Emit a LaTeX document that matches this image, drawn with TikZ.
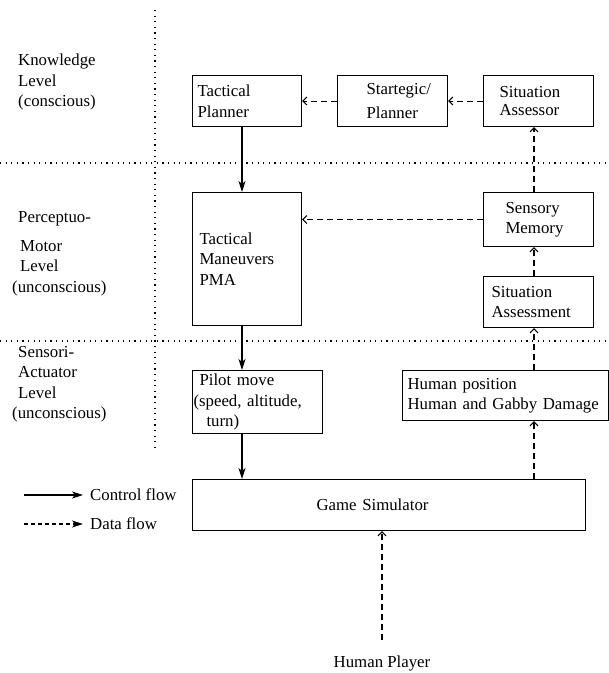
\documentclass[tikz,border=0pt]{standalone}
\usepackage{fontspec}
\setmainfont{Liberation Serif}
\usetikzlibrary{arrows.meta}

\newcommand{\lvlfont}{\fontsize{16.8}{20.5}\selectfont}

\begin{document}
\begin{tikzpicture}[x=1pt, y=-1pt,
    box/.style={draw, line width=1.1pt, align=left, anchor=north west, inner ysep=0pt, font=\lvlfont},
    lbl/.style={align=left, anchor=west, inner sep=0pt, font=\lvlfont},
    ctrl/.style={line width=1.1pt, -{Stealth[length=11pt, width=7pt, inset=3pt]}},
    data/.style={line width=1.1pt, dash pattern=on 6pt off 4pt, -{Straight Barb[length=4pt, width=8pt]}},
    legdata/.style={line width=1.1pt, dash pattern=on 4pt off 3pt, -{Stealth[length=11pt, width=7pt, inset=3pt]}},
    sep/.style={line width=1.2pt, dash pattern=on 1.2pt off 4.4pt}]

    \useasboundingbox (0,0) rectangle (609,673);

    % level separators
    \draw[sep] (155,10) -- (155,447);
    \foreach \ysep in {163,341} {
        \draw[sep] (0,\ysep) -- (609,\ysep);
    } %end foreach

    % level names
    \node[lbl] (knw) at (18,82) {Knowledge\\Level\\(conscious)};
    \node[lbl] (pmt) at (12,254) {\hspace*{6pt}Perceptuo-\\[8pt]\hspace*{8pt}Motor\\\hspace*{8pt}Level\\(unconscious)};
    \node[lbl] (sac) at (12,384) {\hspace*{6pt}Sensori-\\\hspace*{6pt}Actuator\\\hspace*{6pt}Level\\(unconscious)};

    % blocks
    \node[box, text width=99pt, inner xsep=5pt, minimum height=51pt] (tplan) at (192,75) {Tactical\\Planner};
    \node[box, text width=100pt, inner xsep=5pt, minimum height=51pt] (splan) at (337,75) {\hspace*{24pt}Startegic/\\[4pt]\hspace*{24pt}Planner};
    \node[box, text width=78pt, inner xsep=16pt, minimum height=51pt] (sass) at (483,75) {Situation\\[-3pt]Assessor};
    \node[box, text width=95pt, inner xsep=7pt, minimum height=133pt] (tman) at (192,192) {Tactical\\Maneuvers\\PMA};
    \node[box, text width=66pt, inner xsep=22pt, minimum height=54pt] (smem) at (483,192) {Sensory\\Memory};
    \node[box, text width=94pt, inner xsep=8pt, minimum height=51pt] (sasm) at (483,276) {Situation\\Assessment};
    \node[box, text width=128pt, inner xsep=1pt, minimum height=63pt] (pmove) at (192,370) {\hspace*{6pt}Pilot move\\(speed, altitude,\\\hspace*{13pt}turn)};
    \node[box, text width=196pt, inner xsep=5pt, minimum height=50pt] (hpos) at (402,370) {Human position\\Human and Gabby Damage};
    \node[box, text width=145pt, inner xsep=124pt, minimum height=51pt] (game) at (192,479) {Game Simulator};
    \node[lbl, anchor=center] (hplayer) at (382,663) {Human Player};

    % legend
    \coordinate (lgc) at (24,495);
    \coordinate (lgd) at (24,524);
    \node[lbl] (lctrl) at (90,495) {Control flow};
    \node[lbl] (ldata) at (90,524) {Data flow};
    \draw[ctrl] (lgc) -- ([xshift=-7pt]lctrl.west);
    \draw[legdata] (lgd) -- ([xshift=-7pt]ldata.west);

    % control flow
    \coordinate (cx) at (242,0);
    \draw[ctrl] (tplan.south -| cx) -- (tman.north -| cx);
    \draw[ctrl] (tman.south -| cx) -- (pmove.north -| cx);
    \draw[ctrl] (pmove.south -| cx) -- (game.north -| cx);

    % data flow
    \coordinate (dx) at (534,0);
    \draw[data] (sass.west) -- (splan.east);
    \draw[data] (splan.west) -- (tplan.east);
    \draw[data] (smem.west) -- (smem.west -| tman.east);
    \draw[data] (game.north -| dx) -- (hpos.south -| dx);
    \draw[data] (hpos.north -| dx) -- (sasm.south -| dx);
    \draw[data] (sasm.north -| dx) -- (smem.south -| dx);
    \draw[data] (smem.north -| dx) -- (sass.south -| dx);
    \draw[data] ([yshift=15pt]hplayer.north) -- (game.south -| hplayer);

\end{tikzpicture}
\end{document}
